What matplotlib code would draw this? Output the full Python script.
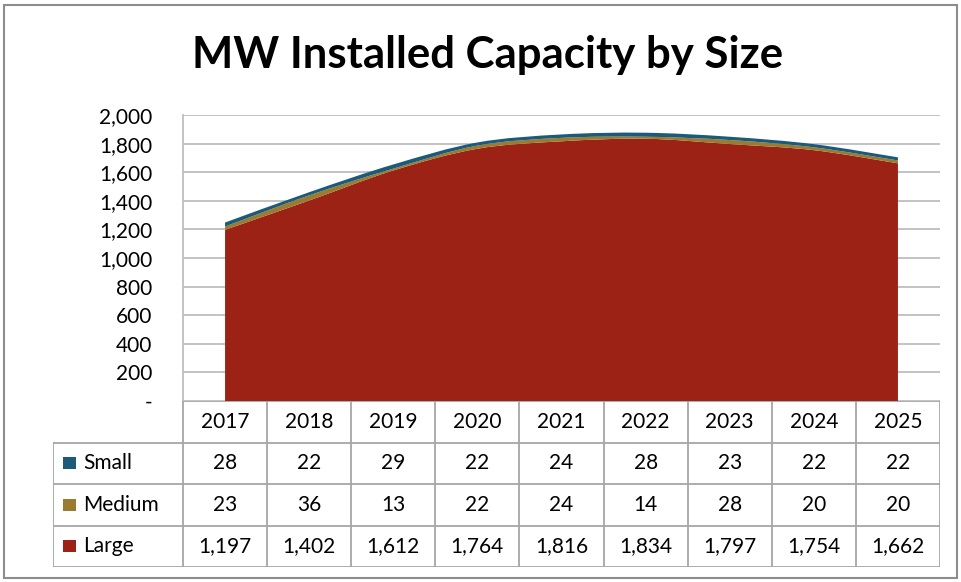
import numpy as np
import matplotlib
matplotlib.use("Agg")
import matplotlib.pyplot as plt
from matplotlib.path import Path
from matplotlib.patches import PathPatch, Rectangle

years = ["2017", "2018", "2019", "2020", "2021", "2022", "2023", "2024", "2025"]
small = [28, 22, 29, 22, 24, 28, 23, 22, 22]
medium = [23, 36, 13, 22, 24, 14, 28, 20, 20]
large = [1197, 1402, 1612, 1764, 1816, 1834, 1797, 1754, 1662]

series_names = ["Small", "Medium", "Large"]
colors = {"Small": "#1B5A78", "Medium": "#9A7B2F", "Large": "#9C2216"}
grid_col = "#BEBEBE"

plt.rcParams["font.family"] = ["Lato", "DejaVu Sans"]

W, H = 962, 582
fig = plt.figure(figsize=(W / 100, H / 100), dpi=100)

def px(x0, y0, x1, y1):
    # pixel box (top-left origin) -> figure fraction rect
    return [x0 / W, 1 - y1 / H, (x1 - x0) / W, (y1 - y0) / H]

# outer border
fig.add_artist(Rectangle((4 / W, 4 / H), (W - 9) / W, (H - 9) / H, transform=fig.transFigure,
                         fill=False, ec="#8C8C8C", lw=1.5))

fig.text(488 / W, 1 - 68 / H, "MW Installed Capacity by Size", ha="center", va="baseline",
         fontsize=31.5, fontweight="bold")

# main plot
ax = fig.add_axes(px(183, 115, 940, 401))
n = len(years)
ax.set_xlim(-0.5, n - 0.5)
ax.set_ylim(0, 2000)
ax.set_yticks(range(0, 2001, 200))
ax.set_yticklabels(["-"] + [f"{v:,}" for v in range(200, 2001, 200)], fontsize=15)
ax.set_xticks([])
ax.tick_params(axis="y", length=0, pad=22)
for s in ["top", "right", "bottom"]:
    ax.spines[s].set_visible(False)
ax.spines["left"].set_color(grid_col)
ax.spines["left"].set_linewidth(1.3)
ax.grid(axis="y", color=grid_col, lw=1.3)
ax.set_axisbelow(True)


def smooth_verts(y):
    pts = list(zip(range(len(y)), y))
    verts = [pts[0]]
    m = len(pts)
    for i in range(m - 1):
        p0 = pts[max(i - 1, 0)]
        p1 = pts[i]
        p2 = pts[i + 1]
        p3 = pts[min(i + 2, m - 1)]
        c1 = (p1[0] + (p2[0] - p0[0]) / 6, p1[1] + (p2[1] - p0[1]) / 6)
        c2 = (p2[0] - (p3[0] - p1[0]) / 6, p2[1] - (p3[1] - p1[1]) / 6)
        verts += [c1, c2, p2]
    return verts


def band(lower, upper, color):
    top = smooth_verts(upper)
    bot = smooth_verts(lower)[::-1]
    verts = top + bot + [top[0]]
    codes = [Path.MOVETO] + [Path.CURVE4] * (len(top) - 1)
    codes += [Path.LINETO] + [Path.CURVE4] * (len(bot) - 1) + [Path.CLOSEPOLY]
    ax.add_patch(PathPatch(Path(verts, codes), fc=color, ec="none", zorder=3))


lo = np.zeros(n)
c1 = np.array(large, dtype=float)
c2 = c1 + np.array(medium)
c3 = c2 + np.array(small)
band(lo, c1, colors["Large"])
band(c1, c2, colors["Medium"])
band(c2, c3, colors["Small"])

# data table
col_w = (940 - 183) / n
tx0 = 53
left_cols = (183 - tx0) / col_w
tax = fig.add_axes(px(tx0, 401, 940, 567))
tax.set_xlim(-0.5 - left_cols, n - 0.5)
tax.set_ylim(0, 4)
tax.axis("off")
lc = dict(color="#A6A6A6", lw=1.3)
xl = -0.5 - left_cols
# horizontal lines
tax.plot([-0.5, n - 0.5], [4, 4], **lc)
for yy in [3, 2, 1, 0]:
    tax.plot([xl, n - 0.5], [yy, yy], **lc)
# vertical lines
for k in range(n + 1):
    tax.plot([k - 0.5, k - 0.5], [0, 4], **lc)
tax.plot([xl, xl], [0, 3], **lc)

fs = 15
for i, yr in enumerate(years):
    tax.text(i, 3.5, yr, ha="center", va="center", fontsize=fs)
rows = {"Small": small, "Medium": medium, "Large": large}
for r, name in enumerate(series_names):
    yc = 2.5 - r
    vals = rows[name]
    for i, v in enumerate(vals):
        tax.text(i, yc, f"{v:,}", ha="center", va="center", fontsize=fs)
    tax.add_patch(Rectangle((xl + 0.12, yc - 0.15), 0.15, 0.30, fc=colors[name], ec="none"))
    tax.text(xl + 0.36, yc, name, ha="left", va="center", fontsize=fs)

fig.savefig("out.png", dpi=100)
